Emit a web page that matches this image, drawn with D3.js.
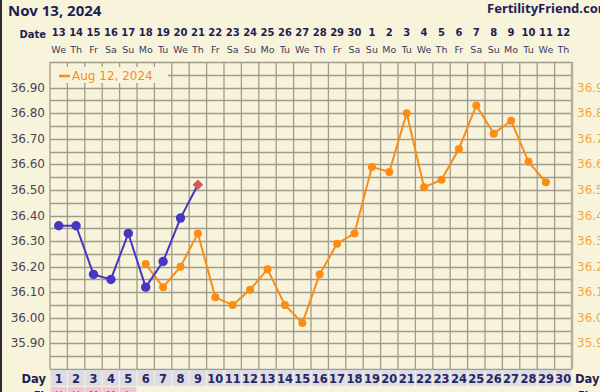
<!DOCTYPE html>
<html>
<head>
<meta charset="utf-8">
<script src="https://cdn.jsdelivr.net/npm/d3@7"></script>
<style>
  body { margin: 0; background: #f8f4dc; }
  svg { display: block; font-family: 'DejaVu Sans', Verdana, sans-serif; }
  .head { font-family: 'Noto Sans', 'DejaVu Sans', sans-serif; }
</style>
</head>
<body>
<div id="chart"></div>
<script>
// chart values
const dateNums = ['13','14','15','16','17','18','19','20','21','22','23','24','25','26','27','28','29','30','1','2','3','4','5','6','7','8','9','10','11','12']
const weekdays = ['We','Th','Fr','Sa','Su','Mo','Tu','We','Th','Fr','Sa','Su','Mo','Tu','We','Th','Fr','Sa','Su','Mo','Tu','We','Th','Fr','Sa','Su','Mo','Tu','We','Th']
const cycleDays = [1,2,3,4,5,6,7,8,9,10,11,12,13,14,15,16,17,18,19,20,21,22,23,24,25,26,27,28,29,30]
const tempTicks = [36.90, 36.80, 36.70, 36.60, 36.50, 36.40, 36.30, 36.20, 36.10, 36.00, 35.90]
const flowDays = [1, 2, 3, 4, 5]
const flowMarks = ['H', 'H', 'M', 'M', 'L']

// current cycle (day, temp), last point is today's reading
const current = [[1,36.36],[2,36.36],[3,36.17],[4,36.15],[5,36.33],[6,36.12],[7,36.22],[8,36.39],[9,36.52]]
// overlay cycle "Aug 12, 2024"
const overlayName = 'Aug 12, 2024'
const overlay = [[6,36.21],[7,36.12],[8,36.20],[9,36.33],[10,36.08],[11,36.05],[12,36.11],[13,36.19],[14,36.05],[15,35.98],
  [16,36.17],[17,36.29],[18,36.33],[19,36.59],[20,36.57],[21,36.80],[22,36.51],[23,36.54],[24,36.66],[25,36.83],
  [26,36.72],[27,36.77],[28,36.61],[29,36.53]]

;(function() {
  let width = 600
  let height = 392
  let plot = { left: 50, right: 572, top: 62, bottom: 369 }

  let navy = '#1e1e52'
  let blue = '#4636c4'
  let orange = '#fb8c16'

  let svg = d3.select('#chart')
    .append('svg')
    .attr('width', width)
    .attr('height', height)

  svg.append('rect')
    .attr('width', width).attr('height', height)
    .attr('fill', '#f8f4dc')
  svg.append('rect')
    .attr('width', 2).attr('height', height)
    .attr('fill', '#2a2a2a')

  let xBand = d3.scaleBand()
    .domain(cycleDays)
    .range([plot.left, plot.right])
  let xCenter = d => xBand(d) + xBand.bandwidth() / 2

  let yScale = d3.scaleLinear()
    .domain([35.8, 37.0])
    .range([plot.bottom, plot.top])

  // header
  svg.append('text')
    .attr('class', 'head')
    .attr('x', 8).attr('y', 16)
    .attr('font-size', 15).attr('font-weight', 'bold')
    .attr('fill', navy)
    .text('Nov 13, 2024')
  svg.append('text')
    .attr('class', 'head')
    .attr('x', 487).attr('y', 13)
    .attr('font-size', 13).attr('font-weight', 'bold')
    .attr('fill', navy)
    .text('FertilityFriend.com')

  // date + weekday rows
  svg.append('text')
    .attr('x', 46).attr('y', 38)
    .attr('text-anchor', 'end')
    .attr('font-size', 10).attr('font-weight', 'bold')
    .attr('fill', navy)
    .text('Date')
  svg.append('g')
    .selectAll('text')
    .data(cycleDays)
    .enter()
    .append('text')
    .attr('x', d => xCenter(d))
    .attr('y', 36)
    .attr('text-anchor', 'middle')
    .attr('font-size', 10).attr('font-weight', 'bold')
    .attr('fill', navy)
    .text((d, i) => dateNums[i])
  svg.append('g')
    .selectAll('text')
    .data(cycleDays)
    .enter()
    .append('text')
    .attr('x', d => xCenter(d))
    .attr('y', 53)
    .attr('text-anchor', 'middle')
    .attr('font-size', 9.5)
    .attr('fill', '#3a3a5a')
    .text((d, i) => weekdays[i])

  // grid
  let grid = svg.append('g')
  let hLines = d3.range(0, 25).map(i => 35.8 + i * 0.05)
  grid.selectAll('.h')
    .data(hLines)
    .enter()
    .append('line')
    .attr('x1', plot.left).attr('x2', plot.right)
    .attr('y1', d => Math.round(yScale(d)) + 0.5)
    .attr('y2', d => Math.round(yScale(d)) + 0.5)
    .attr('stroke', '#a09c8c')
    .attr('stroke-width', 1.3)
  grid.selectAll('.v')
    .data(cycleDays.concat([31]))
    .enter()
    .append('line')
    .attr('x1', d => d <= 30 ? xBand(d) : plot.right)
    .attr('x2', d => d <= 30 ? xBand(d) : plot.right)
    .attr('y1', plot.top).attr('y2', plot.bottom)
    .attr('stroke', d => d > 30 ? '#b4b0a0' : '#a09c8c')
    .attr('stroke-width', d => d > 30 ? 2.5 : 1.3)

  // legend box over grid
  svg.append('rect')
    .attr('x', plot.left + 1).attr('y', 67)
    .attr('width', 117).attr('height', 16)
    .attr('fill', '#f8f4dc')
  svg.append('line')
    .attr('x1', 59).attr('x2', 70)
    .attr('y1', 76).attr('y2', 76)
    .attr('stroke', orange).attr('stroke-width', 2.5)
  svg.append('text')
    .attr('x', 72).attr('y', 80)
    .attr('font-size', 12)
    .attr('fill', orange)
    .text(overlayName)

  // axis labels
  svg.append('g')
    .selectAll('text')
    .data(tempTicks)
    .enter()
    .append('text')
    .attr('x', 45)
    .attr('y', d => yScale(d) + 4)
    .attr('text-anchor', 'end')
    .attr('font-size', 12)
    .attr('fill', '#45454f')
    .text(d => d.toFixed(2))
  svg.append('g')
    .selectAll('text')
    .data(tempTicks)
    .enter()
    .append('text')
    .attr('x', 577)
    .attr('y', d => yScale(d) + 4)
    .attr('font-size', 12)
    .attr('fill', '#f5a447')
    .text(d => d.toFixed(2))

  let line = d3.line()
    .x(d => xCenter(d[0]))
    .y(d => yScale(d[1]))

  // overlay cycle
  svg.append('path')
    .datum(overlay)
    .attr('d', line)
    .attr('fill', 'none')
    .attr('stroke', orange)
    .attr('stroke-width', 2)
  svg.append('g')
    .selectAll('circle')
    .data(overlay)
    .enter()
    .append('circle')
    .attr('cx', d => xCenter(d[0]))
    .attr('cy', d => yScale(d[1]))
    .attr('r', 4)
    .attr('fill', orange)

  // current cycle
  svg.append('path')
    .datum(current)
    .attr('d', line)
    .attr('fill', 'none')
    .attr('stroke', blue)
    .attr('stroke-width', 2)
  svg.append('g')
    .selectAll('circle')
    .data(current.slice(0, -1))
    .enter()
    .append('circle')
    .attr('cx', d => xCenter(d[0]))
    .attr('cy', d => yScale(d[1]))
    .attr('r', 4.7)
    .attr('fill', blue)
  let today = current[current.length - 1]
  svg.append('path')
    .attr('d', d3.symbol(d3.symbolSquare, 56)())
    .attr('transform', `translate(${xCenter(today[0])},${yScale(today[1])}) rotate(45)`)
    .attr('fill', '#d25a5e')

  // day row
  let dayTop = plot.bottom + 1
  svg.append('g')
    .selectAll('rect')
    .data(cycleDays)
    .enter()
    .append('rect')
    .attr('x', d => xBand(d) + 0.5)
    .attr('y', dayTop)
    .attr('width', xBand.bandwidth() - 1)
    .attr('height', 16)
    .attr('fill', '#dcdce6')
  svg.append('g')
    .selectAll('text')
    .data(cycleDays)
    .enter()
    .append('text')
    .attr('x', d => xCenter(d))
    .attr('y', dayTop + 13)
    .attr('text-anchor', 'middle')
    .attr('font-size', 11.5).attr('font-weight', 'bold')
    .attr('fill', '#26265e')
    .text(d => d)
  svg.append('text')
    .attr('x', 46).attr('y', dayTop + 13)
    .attr('text-anchor', 'end')
    .attr('font-size', 11.5).attr('font-weight', 'bold')
    .attr('fill', navy)
    .text('Day')
  svg.append('text')
    .attr('x', 575).attr('y', dayTop + 13)
    .attr('font-size', 11.5).attr('font-weight', 'bold')
    .attr('fill', navy)
    .text('Day')

  // flow row (cut off at bottom)
  let flowTop = dayTop + 17
  svg.append('g')
    .selectAll('rect')
    .data(flowDays)
    .enter()
    .append('rect')
    .attr('x', d => xBand(d) + 0.5)
    .attr('y', flowTop)
    .attr('width', xBand.bandwidth() - 1)
    .attr('height', 16)
    .attr('fill', '#f3c4d6')
  svg.append('g')
    .selectAll('text')
    .data(flowDays)
    .enter()
    .append('text')
    .attr('x', d => xCenter(d))
    .attr('y', flowTop + 12)
    .attr('text-anchor', 'middle')
    .attr('font-size', 10)
    .attr('fill', '#b03a6a')
    .text((d, i) => flowMarks[i])
  svg.append('text')
    .attr('x', 44).attr('y', flowTop + 12)
    .attr('text-anchor', 'end')
    .attr('font-size', 10).attr('font-weight', 'bold')
    .attr('fill', navy)
    .text('Fl')
  svg.append('text')
    .attr('x', 578).attr('y', flowTop + 12)
    .attr('font-size', 10).attr('font-weight', 'bold')
    .attr('fill', navy)
    .text('Fl')
})()
</script>
</body>
</html>
